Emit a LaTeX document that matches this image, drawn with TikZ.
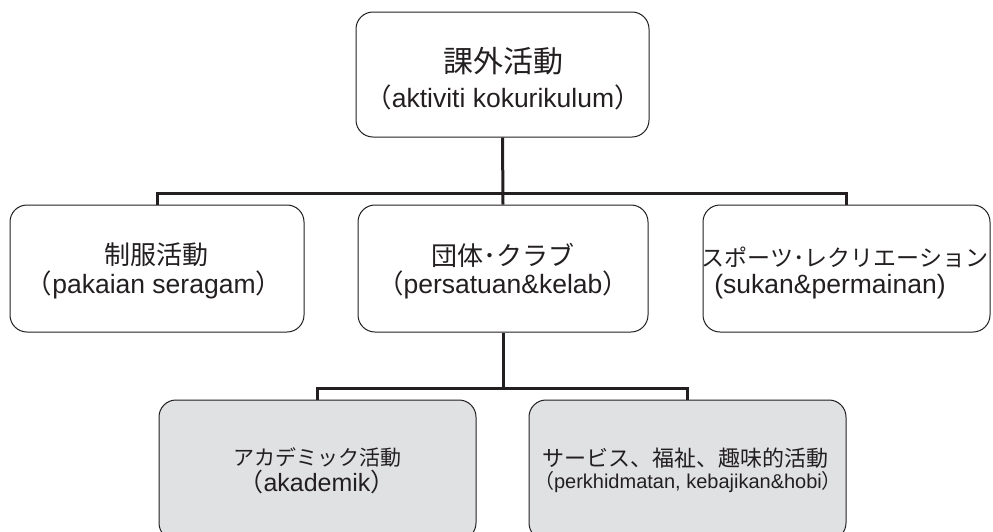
\documentclass[tikz,border=0pt]{standalone}
\usepackage{fontspec}
\setmainfont{Liberation Sans}
\newfontfamily\jp{Noto Sans CJK JP}
\definecolor{linec}{HTML}{231F20}
\definecolor{boxgray}{HTML}{E0E1E3}
\newcommand{\jlp}{{\jp （}}
\newcommand{\jrp}{{\jp ）}}
\tikzset{
  box/.style={draw=linec, line width=1pt, rounded corners=17pt, inner sep=0pt},
  whitebox/.style={box, fill=white},
  graybox/.style={box, fill=boxgray},
  conn/.style={draw=linec, line width=3pt},
  txt/.style={text=linec, inner sep=0pt, anchor=center},
}
\begin{document}
\begin{tikzpicture}[x=1pt,y=-1pt]
\useasboundingbox (0,0) rectangle (993,531);
\clip (0,0) rectangle (993,531);
% boxes
\node[whitebox, minimum width=293pt, minimum height=125pt] (top) at (502.5,74.5) {};
\node[whitebox, minimum width=294pt, minimum height=127pt] (left) at (157,268.5) {};
\node[whitebox, minimum width=290pt, minimum height=127pt] (mid) at (503,268.5) {};
\node[whitebox, minimum width=287pt, minimum height=127pt] (right) at (846.5,268.5) {};
\node[graybox, minimum width=317pt, minimum height=140pt] (bl) at (317.5,470) {};
\node[graybox, minimum width=317pt, minimum height=140pt] (br) at (687.5,470) {};
% connectors
\coordinate (b1) at (503,193);
\coordinate (b2) at (503,388);
\draw[conn] (top.south) -- (mid.north);
\draw[conn] (left.north) |- (b1);
\draw[conn] (right.north) |- (b1);
\draw[conn] (mid.south) -- (b2);
\draw[conn] (bl.north) |- (b2);
\draw[conn] (br.north) |- (b2);
% texts
\node[txt, font=\jp\fontsize{30}{36}\selectfont] (t1) at (503,61) {課外活動};
\node[txt, font=\fontsize{26.5}{32}\selectfont] (t2) at (503,97) {\jlp aktiviti kokurikulum\jrp};
\node[txt, font=\jp\fontsize{26}{32}\selectfont] (l1) at (156,255) {制服活動};
\node[txt, font=\fontsize{26.5}{32}\selectfont] (l2) at (154,285) {\jlp pakaian seragam\jrp};
\node[txt, font=\jp\fontsize{26}{32}\selectfont] (m1) at (503,255) {団体･クラブ};
\node[txt, font=\fontsize{26.5}{32}\selectfont] (m2) at (503,285) {\jlp persatuan\&kelab\jrp};
\node[txt, font=\jp\fontsize{23}{28}\selectfont] (r1) at (845,257) {スポーツ･レクリエーション};
\node[txt, font=\fontsize{26.5}{32}\selectfont] (r2) at (830,287) {(sukan\&permainan)};
\node[txt, font=\jp\fontsize{21}{26}\selectfont] (bl1) at (317,457) {アカデミック活動};
\node[txt, font=\fontsize{25}{30}\selectfont] (bl2) at (317,482) {\jlp akademik\jrp};
\node[txt, font=\jp\fontsize{22}{27}\selectfont] (br1) at (685,458) {サービス、福祉、趣味的活動};
\node[txt, font=\fontsize{20}{25}\selectfont] (br2) at (688,482) {\jlp perkhidmatan, kebajikan\&hobi\jrp};
\end{tikzpicture}
\end{document}
